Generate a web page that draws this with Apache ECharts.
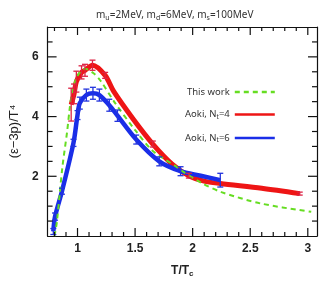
<!DOCTYPE html>
<html><head><meta charset="utf-8">
<script src="https://cdn.jsdelivr.net/npm/echarts@6/dist/echarts.min.js"></script>
<style>html,body{margin:0;padding:0;background:#fff}#c{width:327px;height:283px}</style>
</head><body><div id="c"></div>
<script>
// ---- data ----
const greenT = [0.80, 0.82, 0.845, 0.87, 0.91, 0.93, 0.955, 1.0, 1.065, 1.14, 1.2, 1.327, 1.5, 1.654, 1.855, 1.91, 2.08, 2.25, 2.59, 3.03];
const greenV = [0.0, 0.45, 1.4, 2.35, 3.5, 4.2, 4.85, 5.37, 5.6, 5.45, 5.2, 4.45, 3.55, 2.85, 2.33, 2.17, 1.77, 1.47, 1.09, 0.81];

const redT = [0.945, 0.97, 0.99, 1.035, 1.065, 1.13, 1.24, 1.313, 1.483, 1.654, 1.824, 1.967, 2.1, 2.24, 2.6, 2.93];
const redV = [4.4, 4.76, 5.17, 5.48, 5.55, 5.72, 5.38, 4.85, 3.92, 3.08, 2.4, 2.02, 1.84, 1.76, 1.6, 1.42];
const redE = [0.55, 0.33, 0.35, 0.22, 0.2, 0.17, 0.1, 0, 0, 0.1, 0, 0.08, 0, 0, 0, 0.05];

const blueT = [0.79, 0.805, 0.865, 0.965, 1.0, 1.02, 1.077, 1.134, 1.19, 1.276, 1.347, 1.51, 1.71, 1.895, 2.07, 2.24];
const blueV = [0.15, 0.65, 1.5, 3.12, 4.05, 4.45, 4.72, 4.78, 4.72, 4.38, 4.03, 3.23, 2.5, 2.17, 2.02, 1.87];
const blueE = [0.1, 0.12, 0.1, 0.12, 0.15, 0.2, 0.2, 0.2, 0.2, 0.2, 0.19, 0.15, 0.15, 0.15, 0, 0.23];

const xMajor = [1, 1.5, 2, 2.5, 3];
const xMinor = [0.8, 0.9, 1.1, 1.2, 1.3, 1.4, 1.6, 1.7, 1.8, 1.9, 2.1, 2.2, 2.3, 2.4, 2.6, 2.7, 2.8, 2.9];
const yMajor = [2, 4, 6];
const yMinor = [0.5, 1, 1.5, 2.5, 3, 3.5, 4.5, 5, 5.5, 6.5];

const zip = (a, b, c) => a.map((v, i) => c ? [v, b[i], c[i]] : [v, b[i]]);

const chart = echarts.init(document.getElementById('c'));
const X0 = 0.74, X1 = 3.08, Y0 = 0, Y1 = 7;
const lbl = {fontFamily: 'Liberation Sans', fontWeight: 'bold', fontSize: 12, color: '#222'};

const tickData = [].concat(
  xMajor.map(v => [v, Y0, 0]), xMinor.map(v => [v, Y0, 1]),
  yMajor.map(v => [X0, v, 2]), yMinor.map(v => [X0, v, 3]));

function errSeries(data, color) {
  return {type: 'custom', xAxisIndex: 0, yAxisIndex: 0, z: 5, data: data, silent: true,
    encode: {x: 0, y: 1},
    renderItem: function (params, api) {
      const x = api.value(0), y = api.value(1), e = api.value(2);
      if (!e) return null;
      const a = api.coord([x, y + e]), b = api.coord([x, y - e]);
      const w = 3;
      const st = {stroke: color, lineWidth: 1.3};
      return {type: 'group', children: [
        {type: 'line', shape: {x1: a[0], y1: a[1], x2: b[0], y2: b[1]}, style: st},
        {type: 'line', shape: {x1: a[0] - w, y1: a[1], x2: a[0] + w, y2: a[1]}, style: st},
        {type: 'line', shape: {x1: b[0] - w, y1: b[1], x2: b[0] + w, y2: b[1]}, style: st}
      ]};
    }};
}

const tickSeries = {type: 'custom', xAxisIndex: 0, yAxisIndex: 0, z: 6, silent: true, clip: false, data: tickData,
  encode: {x: 0, y: 1},
  renderItem: function (params, api) {
    const cs = params.coordSys;
    const kind = api.value(2);
    const st = {stroke: '#111111', lineWidth: 1.2};
    const top = cs.y, bot = cs.y + cs.height, left = cs.x, right = cs.x + cs.width;
    if (kind < 2) {
      const px = api.coord([api.value(0), Y0])[0];
      const L = kind === 0 ? 8 : 4;
      return {type: 'group', children: [
        {type: 'line', shape: {x1: px, y1: bot, x2: px, y2: bot - L}, style: st},
        {type: 'line', shape: {x1: px, y1: top, x2: px, y2: top + L}, style: st}
      ]};
    }
    const py = api.coord([X0, api.value(1)])[1];
    const L = kind === 2 ? 9 : 5;
    return {type: 'group', children: [
      {type: 'line', shape: {x1: left, y1: py, x2: left + L, y2: py}, style: st},
      {type: 'line', shape: {x1: right, y1: py, x2: right - L, y2: py}, style: st}
    ]};
  }};

const legendRich = {s: {fontFamily: 'Noto Sans', fontSize: 6.5, color: '#333', padding: [5, 0, 0, 0]}};

const boxAxis = {axisLine: {show: true, onZero: false, lineStyle: {color: '#111111', width: 1.2}},
  axisTick: {show: false}, axisLabel: {show: false}, splitLine: {show: false}};

chart.setOption({
  animation: false,
  title: {text: 'm{s|u}=2MeV, m{s|d}=6MeV, m{s|s}=100MeV', left: 91, top: 4,
    textStyle: {fontFamily: 'Noto Sans', fontWeight: 'normal', fontSize: 10, color: '#333',
      rich: {s: {fontFamily: 'Noto Sans', fontSize: 7, color: '#333', padding: [5, 0, 0, 0]}}}},
  grid: {left: 43, right: 10, top: 27, bottom: 45, containLabel: false},
  legend: {orient: 'vertical', left: 180, top: 82, align: 'right', itemWidth: 40, itemHeight: 10, itemGap: 12.5,
    data: ['This work', 'Aoki, Nt=4', 'Aoki, Nt=6'],
    formatter: function (n) { return n === 'This work' ? n : n.replace('Nt', 'N{s|t}'); },
    textStyle: {fontFamily: 'Noto Sans', fontSize: 9.5, color: '#333', width: 46, rich: legendRich},
    itemStyle: {opacity: 0},
    lineStyle: {width: 2.5}},
  xAxis: [
    {type: 'value', min: X0, max: X1, position: 'bottom',
      axisLine: {show: true, onZero: false, lineStyle: {color: '#111111', width: 1.2}}, axisTick: {show: false},
      axisLabel: Object.assign({show: true, margin: 7, customValues: xMajor}, lbl),
      splitLine: {show: false},
      name: 'T/T{s|c}', nameLocation: 'middle', nameGap: 28,
      nameTextStyle: {fontFamily: 'Liberation Sans', fontWeight: 'bold', fontSize: 12, color: '#222',
        rich: {s: {fontFamily: 'Liberation Sans', fontWeight: 'bold', fontSize: 8, color: '#222', padding: [6, 0, 0, 0]}}}},
    Object.assign({type: 'value', min: X0, max: X1, position: 'top'}, boxAxis)
  ],
  yAxis: [
    {type: 'value', min: Y0, max: Y1, position: 'left',
      axisLine: {show: true, onZero: false, lineStyle: {color: '#111111', width: 1.2}}, axisTick: {show: false},
      axisLabel: Object.assign({show: true, margin: 9, customValues: yMajor}, lbl),
      splitLine: {show: false},
      name: '(ε−3p)/T⁴', nameLocation: 'middle', nameGap: 23,
      nameTextStyle: {fontFamily: 'Liberation Sans', fontWeight: 'normal', fontSize: 13, color: '#222'}},
    Object.assign({type: 'value', min: Y0, max: Y1, position: 'right'}, boxAxis)
  ],
  series: [
    {name: 'Aoki, Nt=4', type: 'line', data: zip(redT, redV), smooth: 0.3, symbol: 'none', z: 3,
      lineStyle: {color: '#ee1515', width: 5}, itemStyle: {color: '#d8203a'}},
    {name: 'Aoki, Nt=6', type: 'line', data: zip(blueT, blueV), smooth: 0.3, symbol: 'none', z: 3,
      lineStyle: {color: '#1a2ee8', width: 4.5}, itemStyle: {color: '#1a2ee8'}},
    {name: 'This work', type: 'line', data: zip(greenT, greenV), smooth: 0.3, symbol: 'none', z: 4,
      lineStyle: {color: '#66dd22', width: 2, type: [5, 4]}, itemStyle: {color: '#66dd22'}},
    errSeries(zip(redT, redV, redE), '#dd2244'),
    errSeries(zip(blueT, blueV, blueE), '#2233dd'),
    tickSeries
  ]
});
</script></body></html>
